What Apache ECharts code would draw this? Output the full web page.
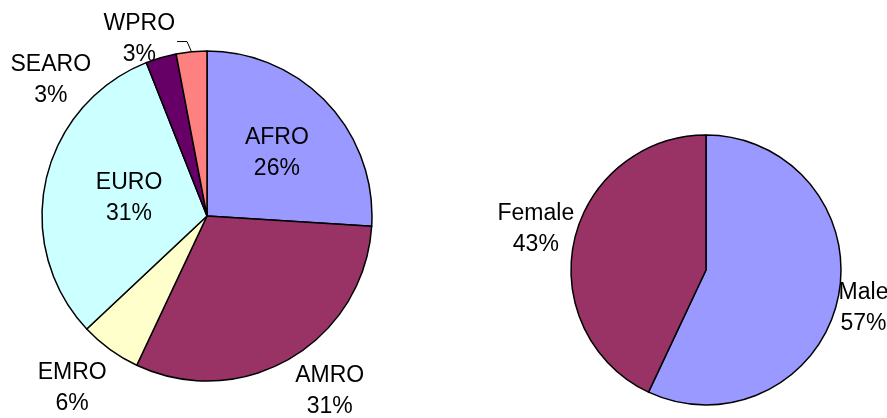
<!DOCTYPE html>
<html>
<head>
<meta charset="utf-8">
<style>
  html, body { margin: 0; padding: 0; background: #ffffff; }
  #chart { width: 887px; height: 418px; }
</style>
<script src="https://cdn.jsdelivr.net/npm/echarts/dist/echarts.min.js"></script>
</head>
<body>
<div id="chart"></div>
<script>
// Share of cases by WHO region (%)
const regionNames = ['AFRO', 'AMRO', 'EMRO', 'EURO', 'SEARO', 'WPRO'];
const regionShares = [26, 31, 6, 31, 3, 3];

// Share of cases by sex (%)
const sexNames = ['Male', 'Female'];
const sexShares = [57, 43];

const regionColors = ['#9999FF', '#993366', '#FFFFCC', '#CCFFFF', '#660066', '#FF8080'];
const sexColors = ['#9999FF', '#993366'];

// Geometry and label placement for each pie
const pieLayouts = [
  {
    names: regionNames, values: regionShares, colors: regionColors,
    center: [207, 216], radius: 165, gap: 8,
    // polar placement (degrees clockwise from 12 o'clock, distance from centre)
    placed: {
      AFRO: { angle: 48, dist: 94 },
      AMRO: { angle: 145, dist: 214 },
      EMRO: { angle: 218, dist: 219 },
      EURO: { angle: 283, dist: 80 },
      SEARO: { angle: 311, dist: 207 },
      WPRO: { angle: 339, dist: 189 }
    },
    leader: ['WPRO']
  },
  {
    names: sexNames, values: sexShares, colors: sexColors,
    center: [706, 270], radius: 135, gap: 0,
    placed: {
      Male: { angle: 103.5, dist: 162 },
      Female: { angle: 283.5, dist: 175 }
    },
    leader: []
  }
];

function midAngle(values, idx) {
  const total = values.reduce((a, b) => a + b, 0);
  let before = 0;
  for (let i = 0; i < idx; i++) before += values[i];
  return (before + values[idx] / 2) / total * 2 * Math.PI;
}

function labelLayout(params) {
  const pl = pieLayouts[params.seriesIndex];
  const name = pl.names[params.dataIndex];
  const th = midAngle(pl.values, params.dataIndex);
  const sx = Math.sin(th), cy = -Math.cos(th);
  const [x0, y0] = pl.center;
  const w = params.labelRect.width, h = params.labelRect.height;
  let x, y;
  if (pl.placed[name]) {
    const a = pl.placed[name].angle * Math.PI / 180;
    x = x0 + pl.placed[name].dist * Math.sin(a);
    y = y0 - pl.placed[name].dist * Math.cos(a);
  } else {
    // push the label box out until it just clears the rim
    const support = Math.abs(sx) * w / 2 + Math.abs(cy) * h / 2;
    const d = pl.radius + pl.gap + support;
    x = x0 + d * sx;
    y = y0 + d * cy;
  }
  const out = { x: x, y: y, align: 'center', verticalAlign: 'middle' };
  if (pl.leader.includes(name)) {
    const rim = [x0 + pl.radius * sx, y0 + pl.radius * cy];
    const right = x + w / 2;
    out.labelLinePoints = [rim, [right + 12, y + 2], [right + 2, y + 2]];
  }
  return out;
}

function makeSeries(pl) {
  return {
    type: 'pie',
    center: pl.center,
    radius: pl.radius,
    startAngle: 90,
    clockwise: true,
    avoidLabelOverlap: false,
    silent: true,
    itemStyle: { borderColor: '#000000', borderWidth: 1.5 },
    label: {
      show: true,
      position: 'outside',
      formatter: '{b}\n{c}%',
      color: '#000000',
      fontFamily: '"Liberation Sans", Arial, sans-serif',
      fontSize: 23,
      lineHeight: 31,
      align: 'center'
    },
    labelLine: { show: false },
    labelLayout: labelLayout,
    data: pl.names.map((n, i) => ({
      name: n,
      value: pl.values[i],
      itemStyle: { color: pl.colors[i] },
      labelLine: {
        show: pl.leader.includes(n),
        lineStyle: { color: '#000000', width: 1 }
      }
    }))
  };
}

const chart = echarts.init(document.getElementById('chart'), null, { renderer: 'canvas' });
chart.setOption({
  animation: false,
  backgroundColor: '#ffffff',
  series: pieLayouts.map(makeSeries)
});
</script>
</body>
</html>
